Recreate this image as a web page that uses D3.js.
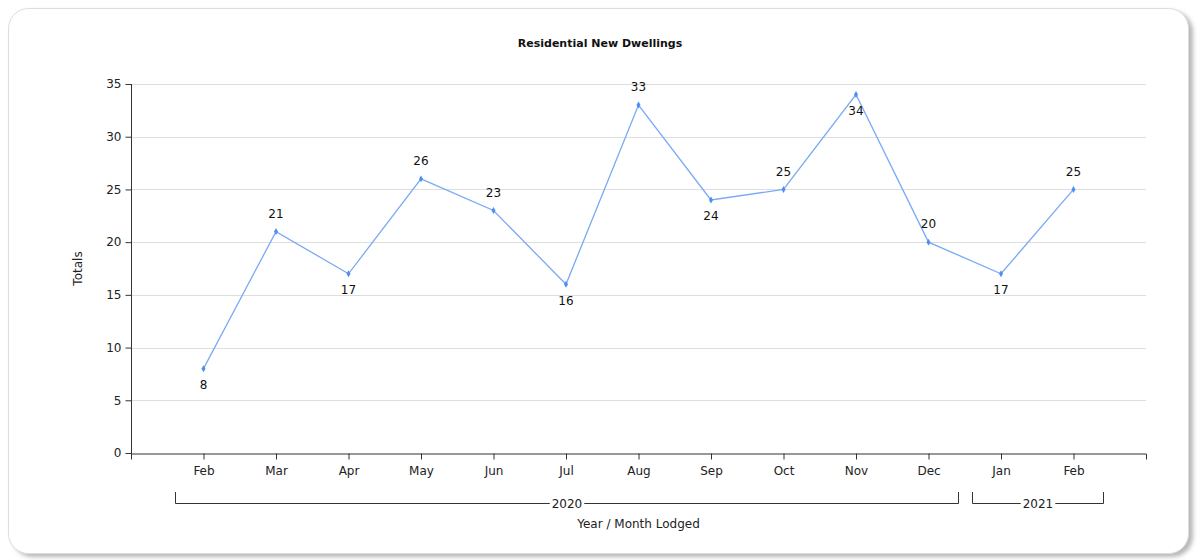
<!DOCTYPE html>
<html><head><meta charset="utf-8">
<script src="https://cdn.jsdelivr.net/npm/d3@7"></script>
<style>
html,body{margin:0;padding:0;background:#fff;}
svg{display:block;}
</style></head>
<body><svg id="c" width="1200" height="560"></svg>
<script>
const months = ["Feb","Mar","Apr","May","Jun","Jul","Aug","Sep","Oct","Nov","Dec","Jan","Feb"];
const years = ["2020","2020","2020","2020","2020","2020","2020","2020","2020","2020","2020","2021","2021"];
const totals = [8,21,17,26,23,16,33,24,25,34,20,17,25];
const labelBelow = [true,false,true,false,false,true,false,true,false,true,false,true,false];
const yTicks = [0,5,10,15,20,25,30,35];
const title = "Residential New Dwellings";
const xTitle = "Year / Month Lodged";
const yTitle = "Totals";

const svg = d3.select("#c");
const font = "DejaVu Sans, Verdana, sans-serif";

// card with shadow
const defs = svg.append("defs");
const f = defs.append("filter").attr("id","sh").attr("x","-5%").attr("y","-5%").attr("width","110%").attr("height","110%");
f.append("feDropShadow").attr("dx",4).attr("dy",3).attr("stdDeviation",2).attr("flood-color","#888").attr("flood-opacity",0.6);
svg.append("rect").attr("x",8.5).attr("y",8.5).attr("width",1180).attr("height",545).attr("rx",20)
  .attr("fill","#fff").attr("stroke","#ddd").attr("filter","url(#sh)");

const m = {l:131, r:1146, t:84, b:453};
const idx = d3.range(totals.length);
const x = d3.scalePoint().domain(idx).range([m.l, m.r]).padding(1);
const y = d3.scaleLinear().domain([0,35]).range([m.b, m.t]);

// grid
svg.append("g").selectAll("line").data(yTicks.filter(d=>d>0)).join("line")
  .attr("x1",m.l).attr("x2",m.r).attr("y1",d=>Math.round(y(d))+0.5).attr("y2",d=>Math.round(y(d))+0.5)
  .attr("stroke","#dedede").attr("stroke-width",1);

// y axis
const ya = svg.append("g").attr("transform",`translate(${m.l+0.5},0)`)
  .call(d3.axisLeft(y).tickValues(yTicks).tickSize(6).tickPadding(4).tickFormat(d3.format("d")));
ya.select(".domain").attr("stroke","#333").attr("d",`M0,${m.t}V${m.b+5}`);
ya.selectAll(".tick line").attr("stroke","#333");
ya.selectAll("text").attr("font-family",font).attr("font-size",12).attr("fill","#222");

// x axis
const xa = svg.append("g").attr("transform",`translate(0,${m.b+0.5})`)
  .call(d3.axisBottom(x).tickSize(6).tickPadding(7).tickFormat(i=>months[i]).tickSizeOuter(6));
xa.select(".domain").attr("stroke","#333");
xa.selectAll(".tick line").attr("stroke","#333");
xa.selectAll("text").attr("font-family",font).attr("font-size",12).attr("fill","#222");

// year brackets
const groups = d3.groups(idx, i=>years[i]);
const half = x.step()*0.4;
const by = 503.5, bTop = 492;
groups.forEach(([yr, arr])=>{
  const x0 = Math.round(x(arr[0])-half)+0.5, x1 = Math.round(x(arr[arr.length-1])+half)+0.5;
  const cx = (x0+x1)/2;
  const g = svg.append("g");
  const t = g.append("text").attr("x",cx).attr("y",by).attr("dy","0.35em").attr("text-anchor","middle")
    .attr("font-family",font).attr("font-size",12).attr("fill","#222").text(yr);
  const w = t.node().getComputedTextLength()/2 + 2;
  g.append("path").attr("d",`M${x0},${bTop}V${by}H${cx-w}M${cx+w},${by}H${x1}V${bTop}`)
    .attr("fill","none").attr("stroke","#333").attr("stroke-width",1);
});

// titles
svg.append("text").attr("x",600).attr("y",47).attr("text-anchor","middle").attr("font-family",font)
  .attr("font-size",11).attr("font-weight","bold").attr("fill","#111").text(title);
svg.append("text").attr("x",(m.l+m.r)/2).attr("y",528).attr("text-anchor","middle").attr("font-family",font)
  .attr("font-size",12).attr("fill","#222").text(xTitle);
svg.append("text").attr("transform",`translate(82,${(m.t+m.b)/2}) rotate(-90)`).attr("text-anchor","middle")
  .attr("font-family",font).attr("font-size",12).attr("fill","#222").text(yTitle);

// line
svg.append("path").datum(idx)
  .attr("d", d3.line().x(i=>x(i)).y(i=>y(totals[i])))
  .attr("fill","none").attr("stroke","#7aaaf5").attr("stroke-width",1.3);
svg.append("g").selectAll("path").data(idx).join("path")
  .attr("transform",i=>`translate(${x(i)},${y(totals[i])})`)
  .attr("d", d3.symbol(d3.symbolDiamond, 14)())
  .attr("fill","#4d8ff0");

// labels
svg.append("g").selectAll("text").data(idx).join("text")
  .attr("x",i=>x(i)).attr("y",i=>y(totals[i]) + (labelBelow[i]?16:-18)).attr("dy","0.35em")
  .attr("text-anchor","middle").attr("font-family",font).attr("font-size",12).attr("fill","#111")
  .text(i=>totals[i]);
</script></body></html>
